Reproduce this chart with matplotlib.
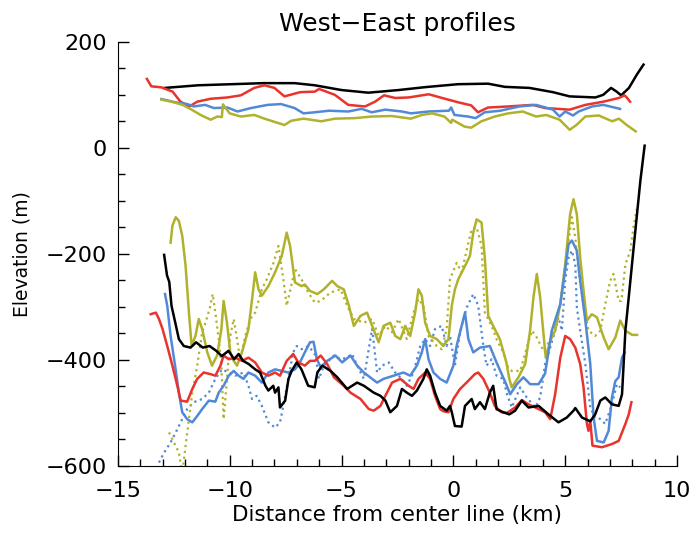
import matplotlib
matplotlib.use("Agg")
import matplotlib.pyplot as plt
from matplotlib.ticker import MultipleLocator

# Oberflaeche (surface) profiles
top_black_x = [-12.9, -11.4, -9.2, -8.5, -7.1, -6.2, -5.0, -3.8, -2.45, -1.25, 0.2, 1.55, 2.3,
               3.4, 4.45, 5.2, 6.35, 6.7, 7.05, 7.3, 7.5, 7.85, 8.2, 8.5]
top_black_y = [113, 118, 121, 122, 122, 118, 109, 104, 109, 114.5, 120, 121, 115,
               113, 105, 97, 95, 100, 113, 106, 99, 113, 138, 157]

top_red_x = [-13.7, -13.5, -13.05, -12.55, -12.2, -11.8, -11.45, -10.85, -10.1, -9.5, -8.9, -8.45,
             -8.0, -7.55, -6.85, -6.2, -6.0, -5.3, -4.7, -3.95, -3.5, -3.1, -2.6, -2.0, -1.1, -0.5,
             0.2, 0.8, 1.1, 1.55, 2.45, 3.55, 4.1, 5.2, 5.9, 6.7, 7.4, 7.65, 7.75, 7.9]
top_red_y = [130, 116, 114, 106, 87, 78, 87, 92.5, 95, 99, 113, 118,
             113, 97, 105, 106, 111, 100, 81, 78, 87, 99, 94, 95, 101, 94,
             86, 80, 67, 76, 78, 81, 75, 72, 81, 87, 94, 99, 95, 87]

top_blue_x = [-13.05, -12.45, -11.9, -11.6, -11.1, -10.7, -10.1, -9.65, -9.05, -8.3, -7.7, -7.1,
              -6.7, -6.2, -5.55, -4.7, -4.1, -3.65, -3.05, -2.3, -1.9, -1.1, -0.2, -0.1, 0.05,
              0.65, 1.0, 1.4, 2.1, 2.95, 3.7, 4.45, 4.75, 5.0, 5.35, 5.6, 6.2, 6.7, 7.0, 7.45]
top_blue_y = [92, 86, 82.5, 78, 81, 75, 76, 68.5, 75, 81, 82.5, 75,
              65, 67, 70, 68.5, 73.5, 67, 72, 68.5, 65, 68.5, 70, 76, 62,
              59, 56, 67, 70, 78, 81, 72, 59, 68.5, 61, 68.5, 78, 81, 78, 73.5]

top_olive_x = [-13.05, -12.6, -12.1, -11.7, -11.3, -10.85, -10.55, -10.35, -10.3, -10.0, -9.5,
               -8.9, -8.45, -7.85, -7.55, -7.25, -6.7, -5.9, -5.3, -4.4, -3.65, -2.75, -1.9,
               -1.4, -0.95, -0.4, -0.1, -0.05, 0.5, 0.8, 1.25, 1.85, 2.45, 3.1, 3.7, 4.15,
               4.75, 5.2, 5.5, 5.9, 6.5, 7.1, 7.4, 7.75, 8.15]
top_olive_y = [91, 87, 81, 72, 62, 53, 59, 58, 82, 65, 59,
               62, 55, 47, 43, 51, 55, 50, 55, 56, 59, 60, 55,
               62, 65, 59, 47, 53, 40, 38, 50, 59, 65, 68.5, 59, 62,
               53, 34, 43, 59, 61, 50, 55, 43, 31]

# Bett (bed) profiles
bed_black_x = [-12.93, -12.8, -12.7, -12.6, -12.4, -12.27, -12.05, -11.75, -11.5, -11.2, -10.9,
               -10.6, -10.35, -10.05, -9.8, -9.6, -9.4, -9.15, -8.86, -8.64, -8.4, -8.27, -8.05,
               -7.97, -7.82, -7.75, -7.52, -7.37, -7.23, -7.0, -6.79, -6.49, -6.2, -6.08, -5.86,
               -5.49, -5.19, -4.75, -4.3, -4.0, -3.56, -3.26, -3.04, -2.82, -2.52, -2.3, -2.08,
               -1.85, -1.63, -1.34, -1.19, -1.04, -0.82, -0.59, -0.3, -0.15, -0.07, 0.07, 0.37,
               0.52, 0.82, 0.96, 1.19, 1.41, 1.63, 1.78, 1.93, 2.23, 2.5, 2.76, 3.06, 3.36, 3.81,
               4.25, 4.7, 5.07, 5.37, 5.45, 5.75, 6.12, 6.34, 6.57, 6.79, 7.09, 7.39, 7.54, 7.69,
               7.84, 8.06, 8.21, 8.36, 8.55]
bed_black_y = [-202, -241, -253, -298, -336, -361, -374, -377, -367, -377, -374,
               -383, -393, -383, -399, -389, -402, -408, -418, -424, -449, -458, -449,
               -462, -452, -490, -477, -436, -421, -405, -418, -449, -452, -424, -411,
               -421, -433, -455, -443, -449, -462, -468, -477, -499, -487, -455, -462,
               -468, -458, -436, -418, -430, -462, -487, -496, -487, -499, -525, -526,
               -487, -474, -493, -480, -493, -462, -449, -493, -499, -503, -496, -477, -490, -487,
               -503, -518, -509, -496, -491, -509, -516, -503, -477, -471, -484, -487, -465, -345,
               -282, -188, -125, -62, 4]

bed_red_x = [-13.53, -13.3, -13.16, -13.0, -12.79, -12.56, -12.34, -12.19, -11.9, -11.67, -11.45,
             -11.16, -10.86, -10.64, -10.41, -10.27, -10.04, -9.75, -9.45, -9.16, -8.86, -8.56,
             -8.27, -7.97, -7.75, -7.45, -7.16, -6.93, -6.64, -6.41, -6.19, -5.93, -5.64, -5.34,
             -4.9, -4.6, -4.15, -3.78, -3.56, -3.26, -3.04, -2.74, -2.37, -2.0, -1.78, -1.56,
             -1.26, -1.04, -0.82, -0.59, -0.45, -0.22, 0.0, 0.3, 0.59, 0.96, 1.11, 1.34, 1.63,
             1.85, 2.15, 2.4, 2.76, 3.06, 3.36, 3.81, 4.1, 4.33, 4.55, 4.78, 5.0, 5.22, 5.45,
             5.67, 5.82, 5.97, 6.04, 6.12, 6.22, 6.64, 7.09, 7.39, 7.69, 7.84, 7.96]
bed_red_y = [-314, -311, -323, -342, -374, -411, -449, -477, -479, -455, -436,
             -424, -427, -430, -411, -392, -399, -396, -402, -396, -405, -424,
             -430, -424, -430, -402, -389, -405, -411, -402, -402, -392, -408, -433,
             -449, -462, -474, -493, -496, -487, -468, -443, -436, -449, -455, -436,
             -424, -436, -468, -493, -497, -499, -474, -455, -443, -427, -424, -436, -462,
             -487, -499, -500, -490, -476, -484, -493, -499, -512, -465, -396, -355, -361, -377,
             -408, -452, -521, -534, -515, -562, -565, -559, -553, -521, -503, -480]

bed_blue_x = [-12.89, -12.79, -12.64, -12.44, -12.27, -12.12, -11.9, -11.67, -11.45, -11.23,
              -10.93, -10.64, -10.49, -10.27, -10.04, -9.82, -9.6, -9.38, -9.16, -8.86, -8.56,
              -8.27, -7.97, -7.67, -7.38, -7.08, -6.86, -6.64, -6.41, -6.25, -6.1, -5.93, -5.64,
              -5.27, -4.97, -4.6, -4.3, -4.0, -3.63, -3.41, -3.12, -2.67, -2.23, -1.93, -1.63,
              -1.41, -1.26, -1.11, -0.89, -0.59, -0.3, 0.0, 0.15, 0.37, 0.52, 0.67, 0.89, 1.19,
              1.63, 1.93, 2.35, 2.54, 2.84, 3.13, 3.43, 3.81, 4.1, 4.4, 4.78, 4.93, 5.15, 5.3,
              5.52, 5.67, 5.9, 6.12, 6.27, 6.42, 6.72, 6.94, 7.09, 7.24, 7.39, 7.54, 7.66]
bed_blue_y = [-276, -298, -355, -411, -462, -499, -512, -518, -506, -493,
              -477, -479, -462, -449, -430, -421, -430, -436, -424, -430, -443,
              -424, -418, -421, -424, -418, -405, -386, -367, -366, -399, -414, -402,
              -392, -405, -392, -411, -424, -436, -443, -436, -430, -424, -430, -411,
              -386, -361, -399, -424, -436, -443, -411, -373, -336, -311, -361, -386, -377,
              -374, -405, -445, -465, -446, -433, -446, -446, -426, -345, -295, -251, -182, -175,
              -194, -251, -326, -408, -509, -553, -556, -534, -471, -440, -433, -396, -386]

bed_olive_x = [-12.64, -12.56, -12.41, -12.27, -12.12, -11.97, -11.82, -11.7, -11.53, -11.38,
               -11.23, -11.0, -10.79, -10.56, -10.37, -10.27, -10.12, -9.97, -9.82, -9.67, -9.45,
               -9.16, -8.98, -8.86, -8.71, -8.56, -8.27, -7.97, -7.67, -7.45, -7.3, -7.08, -6.79,
               -6.64, -6.41, -6.08, -5.79, -5.42, -5.19, -4.9, -4.67, -4.45, -4.15, -3.86, -3.63,
               -3.34, -3.12, -2.82, -2.6, -2.37, -2.15, -1.93, -1.71, -1.56, -1.41, -1.26, -1.04,
               -0.74, -0.45, -0.22, -0.07, 0.07, 0.22, 0.52, 0.74, 0.89, 1.04, 1.26, 1.41, 1.56,
               1.85, 2.08, 2.37, 2.5, 2.61, 2.91, 3.21, 3.43, 3.58, 3.73, 3.88, 4.07, 4.13, 4.33,
               4.55, 4.78, 5.0, 5.22, 5.37, 5.52, 5.67, 5.82, 5.97, 6.19, 6.42, 6.72, 6.94, 7.24,
               7.46, 7.69, 7.99, 8.21]
bed_olive_y = [-179, -147, -131, -138, -166, -223, -311, -374, -355, -323,
               -342, -386, -411, -392, -342, -289, -330, -386, -402, -411, -386,
               -342, -279, -235, -267, -279, -261, -235, -204, -160, -185, -254, -261,
               -258, -270, -276, -267, -251, -261, -267, -298, -336, -317, -311, -336,
               -367, -336, -330, -355, -361, -336, -355, -311, -267, -279, -330, -355,
               -361, -374, -361, -298, -267, -248, -223, -204, -160, -135, -141, -210, -317,
               -342, -361, -405, -436, -452, -433, -408, -345, -282, -238, -282, -370, -396, -364,
               -345, -295, -220, -125, -97, -125, -207, -270, -326, -314, -320, -358, -380, -358,
               -326, -345, -353, -353]

bed_blue_dot_x = [-13.16, -12.93, -12.64, -12.41, -12.12, -11.9, -11.6, -11.23, -10.93, -10.64,
                  -10.34, -10.04, -9.75, -9.38, -9.16, -9.0, -8.79, -8.56, -8.27, -7.97, -7.75,
                  -7.6, -7.38, -7.16, -7.0, -6.79, -6.49, -6.3, -6.16, -6.01, -5.79, -5.34, -5.04,
                  -4.75, -4.53, -4.3, -4.0, -3.71, -3.63, -3.41, -3.19, -2.89, -2.6, -2.3, -2.08,
                  -1.78, -1.48, -1.26, -1.04, -0.82, -0.52, -0.3, -0.15, 0.07, 0.3, 0.59, 0.89,
                  1.11, 1.34, 1.48, 1.71, 1.93, 2.23, 2.4, 2.61, 2.99, 3.28, 3.66, 3.88, 4.1, 4.33,
                  4.55, 4.7, 4.85, 5.0, 5.15, 5.3, 5.45, 5.52, 5.67, 5.9, 6.12, 6.34, 6.49, 6.79,
                  7.09, 7.31, 7.46]
bed_blue_dot_y = [-594, -575, -556, -537, -512, -493, -480, -474, -462, -436,
                  -418, -424, -430, -424, -449, -474, -468, -487, -518, -528, -518,
                  -487, -436, -386, -374, -380, -374, -383, -392, -436, -411, -392, -399,
                  -396, -389, -411, -436, -361, -342, -424, -411, -405, -424, -436, -449,
                  -424, -374, -361, -374, -342, -336, -374, -355, -411, -348, -302, -276,
                  -298, -374, -411, -399, -430, -436, -465, -490, -452, -471, -490, -471, -408, -377,
                  -345, -320, -345, -251, -207, -194, -220, -301, -345, -408, -490, -509, -509, -521,
                  -484, -446, -452]

bed_olive_dot_x = [-12.71, -12.49, -12.27, -12.12, -11.97, -11.82, -11.67, -11.45, -11.23, -11.08,
                   -10.86, -10.76, -10.64, -10.49, -10.37, -10.27, -10.12, -9.97, -9.82, -9.67,
                   -9.53, -9.3, -9.08, -8.86, -8.56, -8.34, -8.04, -7.82, -7.6, -7.45, -7.08, -6.79,
                   -6.49, -6.19, -5.93, -5.49, -5.04, -4.75, -4.45, -4.0, -3.63, -3.34, -3.04, -2.74,
                   -2.45, -2.08, -1.78, -1.56, -1.34, -1.11, -0.74, -0.52, -0.3, -0.15, 0.15, 0.37,
                   0.59, 0.82, 1.04, 1.26, 1.41, 1.71, 1.93, 2.23, 2.45, 2.61, 2.99, 3.28, 3.51, 3.73,
                   4.03, 4.4, 4.78, 5.0, 5.3, 5.45, 5.63, 5.82, 6.04, 6.34, 6.57, 6.79, 7.01, 7.16,
                   7.39, 7.51, 7.69, 7.91, 8.05, 8.2]
bed_olive_dot_y = [-537, -556, -575, -615, -562, -512, -462, -411, -348, -330,
                   -298, -276, -311, -361, -411, -512, -436, -355, -323, -361,
                   -399, -355, -323, -311, -267, -248, -217, -185, -248, -298, -229, -248,
                   -273, -292, -289, -273, -267, -298, -323, -330, -323, -355, -336, -348,
                   -323, -361, -311, -285, -298, -355, -374, -380, -342, -248, -217, -235,
                   -194, -153, -150, -185, -311, -336, -361, -386, -415, -421, -421, -377, -345, -358,
                   -383, -358, -295, -220, -131, -169, -245, -295, -345, -355, -345, -295, -251, -238,
                   -289, -289, -220, -194, -150, -115]

schwarz = "black"
rot = "#e8342c"
blau = "#5289d6"
oliv = "#b0b22c"

fig = plt.figure(figsize=(6.93, 5.36), dpi=100)
ax = fig.add_axes([0.170, 0.131, 0.807, 0.791])

lw = 1.8
ax.plot(top_black_x, top_black_y, color=schwarz, lw=lw)
ax.plot(top_red_x, top_red_y, color=rot, lw=lw)
ax.plot(top_blue_x, top_blue_y, color=blau, lw=lw)
ax.plot(top_olive_x, top_olive_y, color=oliv, lw=lw)

ax.plot(bed_blue_dot_x, bed_blue_dot_y, color=blau, lw=1.6, ls=":")
ax.plot(bed_olive_dot_x, bed_olive_dot_y, color=oliv, lw=1.6, ls=":")
ax.plot(bed_olive_x, bed_olive_y, color=oliv, lw=lw)
ax.plot(bed_blue_x, bed_blue_y, color=blau, lw=lw)
ax.plot(bed_red_x, bed_red_y, color=rot, lw=lw)
ax.plot(bed_black_x, bed_black_y, color=schwarz, lw=lw)

ax.set_xlim(-15, 10)
ax.set_ylim(-600, 200)
ax.xaxis.set_major_locator(MultipleLocator(5))
ax.xaxis.set_minor_locator(MultipleLocator(1))
ax.yaxis.set_major_locator(MultipleLocator(200))
ax.yaxis.set_minor_locator(MultipleLocator(50))

ax.spines["top"].set_visible(False)
ax.spines["right"].set_visible(False)
ax.tick_params(which="both", direction="in", width=1.0, labelsize=16)
ax.tick_params(which="major", length=8)
ax.tick_params(which="minor", length=5)
ax.tick_params(axis="y", pad=8)
ax.tick_params(axis="x", pad=11)

ax.set_title("West\u2212East profiles", fontsize=18, pad=8)
ax.set_xlabel("Distance from center line (km)", fontsize=15.5, labelpad=3)
ax.set_ylabel("Elevation (m)", fontsize=13.5, labelpad=10)

fig.savefig("out.png", dpi=100)
